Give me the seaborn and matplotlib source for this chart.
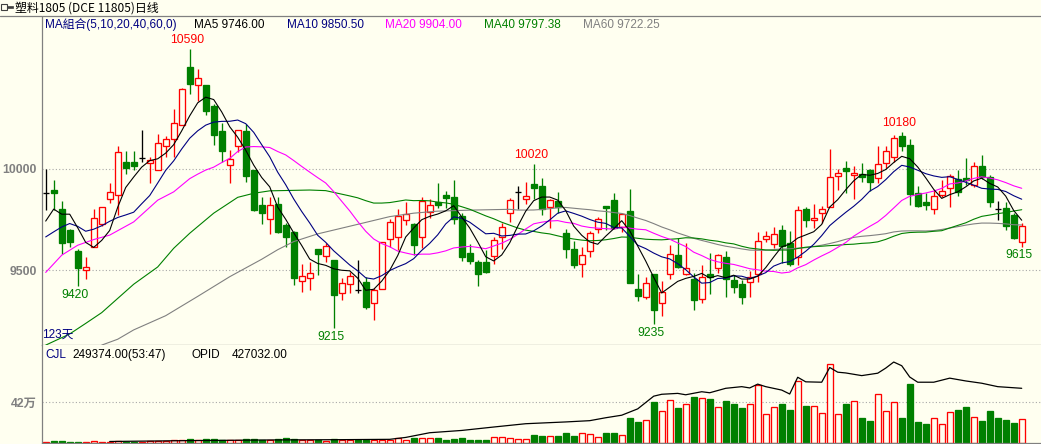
import numpy as np
import pandas as pd
import matplotlib
matplotlib.use("Agg")
import matplotlib.pyplot as plt
from matplotlib.lines import Line2D
from matplotlib.patches import Rectangle
import seaborn as sns

# daily bars (123 days)
opens = [9878, 9893, 9800, 9696, 9593, 9499, 9611, 9729, 9849, 9869,
         10030, 10030, 10051, 10025, 9995, 10110, 10143, 10213, 10501, 10411,
         10411, 10307, 10184, 10016, 10110, 10184, 9992, 9819, 9749, 9825,
         9722, 9686, 9447, 9459, 9604, 9569, 9549, 9388, 9429, 9401,
         9439, 9336, 9408, 9651, 9661, 9746, 9727, 9661, 9787, 9836,
         9868, 9858, 9766, 9582, 9538, 9538, 9569, 9661, 9779, 9884,
         9850, 9922, 9914, 9809, 9840, 9684, 9605, 9528, 9594, 9700,
         9815, 9845, 9713, 9791, 9406, 9369, 9480, 9336, 9479, 9574,
         9479, 9456, 9357, 9480, 9508, 9566, 9451, 9431, 9439, 9480,
         9653, 9630, 9697, 9631, 9562, 9800, 9747, 9779, 9809, 9961,
         10001, 9968, 9971, 9993, 9952, 10025, 10058, 10160, 10116, 9881,
         9835, 9802, 9871, 9906, 9947, 9952, 9919, 10012, 9956, 9799,
         9805, 9769, 9640]
highs = [10000, 9943, 9839, 9701, 9603, 9565, 9803, 9808, 9931, 10110,
         10085, 10085, 10189, 10057, 10169, 10159, 10292, 10399, 10590, 10488,
         10411, 10320, 10222, 10090, 10189, 10218, 9995, 9860, 9860, 9858,
         9730, 9690, 9530, 9538, 9604, 9635, 9549, 9459, 9492, 9549,
         9464, 9410, 9636, 9751, 9799, 9833, 9733, 9858, 9848, 9930,
         9891, 9943, 9779, 9628, 9549, 9598, 9664, 9730, 9853, 9914,
         9932, 10020, 9952, 9850, 9884, 9700, 9644, 9615, 9694, 9762,
         9815, 9881, 9779, 9897, 9480, 9467, 9480, 9448, 9623, 9656,
         9631, 9484, 9525, 9582, 9579, 9594, 9475, 9451, 9497, 9686,
         9692, 9713, 9722, 9692, 9815, 9812, 9825, 9815, 10096, 9998,
         10037, 10012, 10025, 9998, 10111, 10111, 10165, 10180, 10144, 9914,
         9881, 9894, 9943, 9973, 9993, 10053, 10034, 10067, 9968, 9840,
         9836, 9779, 9730]
lows = [9796, 9795, 9581, 9611, 9420, 9458, 9611, 9716, 9828, 9770,
        9975, 9995, 10033, 9929, 9995, 10057, 10057, 10213, 10369, 10333,
        10263, 10115, 10033, 9929, 10082, 9934, 9790, 9726, 9675, 9684,
        9615, 9426, 9393, 9401, 9475, 9541, 9215, 9352, 9388, 9388,
        9306, 9254, 9408, 9615, 9598, 9722, 9574, 9607, 9754, 9804,
        9807, 9727, 9546, 9528, 9423, 9484, 9528, 9605, 9735, 9799,
        9825, 9850, 9771, 9709, 9779, 9561, 9508, 9464, 9562, 9684,
        9697, 9700, 9689, 9434, 9349, 9357, 9235, 9271, 9456, 9508,
        9475, 9303, 9336, 9382, 9487, 9366, 9388, 9333, 9369, 9439,
        9636, 9607, 9533, 9521, 9525, 9713, 9705, 9733, 9809, 9894,
        9881, 9848, 9932, 9889, 9930, 10001, 10034, 10086, 9820, 9809,
        9796, 9776, 9858, 9812, 9865, 9919, 9911, 9947, 9812, 9746,
        9697, 9653, 9615]
closes = [9878, 9877, 9635, 9640, 9511, 9517, 9754, 9808, 9885, 10082,
          10003, 10013, 10051, 10044, 10128, 10143, 10222, 10391, 10414, 10448,
          10282, 10163, 10087, 10049, 10189, 9964, 9795, 9782, 9819, 9689,
          9664, 9462, 9470, 9484, 9581, 9618, 9377, 9434, 9470, 9401,
          9319, 9401, 9636, 9735, 9764, 9777, 9622, 9841, 9818, 9820,
          9856, 9750, 9562, 9546, 9479, 9490, 9646, 9710, 9845, 9884,
          9863, 9906, 9799, 9845, 9809, 9605, 9523, 9574, 9681, 9751,
          9804, 9705, 9774, 9434, 9374, 9434, 9303, 9390, 9577, 9516,
          9508, 9352, 9464, 9464, 9574, 9456, 9414, 9369, 9464, 9643,
          9669, 9676, 9620, 9528, 9794, 9746, 9755, 9800, 9956, 9976,
          9989, 9976, 9960, 9932, 10021, 10086, 10149, 10112, 9873, 9817,
          9820, 9865, 9889, 9965, 9886, 9943, 10011, 9956, 9836, 9799,
          9718, 9656, 9717]
# volume in thousands
volumes_k = [5, 15, 15, 5, 5, 5, 20, 5, 5, 20,
             8, 8, 8, 20, 20, 20, 22, 22, 35, 22,
             35, 38, 30, 30, 30, 35, 35, 28, 28, 39,
             45, 39, 21, 21, 21, 18, 39, 21, 25, 21,
             21, 25, 25, 25, 50, 25, 50, 50, 50, 49,
             28, 39, 49, 28, 28, 28, 56, 56, 49, 39,
             39, 74, 63, 63, 63, 99, 63, 99, 85, 55,
             99, 99, 74, 257, 215, 233, 427, 328, 444, 363,
             402, 480, 462, 455, 374, 437, 402, 363, 402, 596,
             296, 367, 402, 339, 638, 381, 381, 303, 822, 296,
             402, 437, 251, 222, 508, 332, 420, 261, 614, 215,
             190, 251, 198, 314, 339, 367, 268, 222, 328, 251,
             240, 205, 249.374]
# open interest, read at a set of days (thousands)
opid_days = [8, 18, 28, 36, 43, 45, 48, 52, 56, 60, 65, 68, 70, 72, 74, 76, 77,
             79, 80, 82, 83, 85, 87, 88, 89, 90, 92, 93, 94, 95, 97, 98, 99,
             100, 102, 104, 105, 106, 107, 108, 109, 111, 113, 115, 117, 119, 122]
opid_k = [8, 15, 20, 22, 25, 40, 77, 95, 122, 148, 162, 172, 195, 215, 265, 365, 380,
          387, 376, 400, 392, 427, 440, 430, 460, 440, 413, 382, 514, 478, 475, 591, 554,
          548, 527, 546, 586, 634, 605, 516, 475, 475, 507, 485, 467, 440, 427.032]

# moving-average values before each window fills
ma5_early_days, ma5_early = [0, 1, 2, 3], [9741, 9800, 9775, 9775]
ma10_early_days = [0, 1, 2, 3, 4, 5, 6, 7, 8]
ma10_early = [9663, 9688, 9712, 9729, 9715, 9691, 9701, 9718, 9740]
ma20_early_days = [0, 2, 4, 6, 8, 11, 14, 16, 18]
ma20_early = [9488, 9573, 9622, 9650, 9672, 9737, 9844, 9885, 9950]
ma40_early_days = [0, 3, 5, 7, 9, 11, 14, 16, 18, 21, 24, 26, 28, 33, 35, 38]
ma40_early = [9130, 9185, 9237, 9290, 9360, 9430, 9515, 9607, 9681, 9780,
              9858, 9878, 9890, 9894, 9891, 9865]
ma60_early_days = [7, 9, 11, 15, 19, 23, 25, 27, 29, 31, 34, 39, 43, 46, 49, 53, 58]
ma60_early = [9130, 9159, 9205, 9275, 9370, 9467, 9510, 9553, 9600, 9640,
              9678, 9725, 9763, 9780, 9790, 9795, 9799]

high_marks = [18, 61, 107]
low_marks = [4, 36, 76, 122]

W, H = 1041, 444
BG = "#fffff0"
RED = "#ff0000"
GREEN = "#008000"
NAVY = "#000080"
MAG = "#ff00ff"
GRAY = "#808080"
PX = 0.95  # a little over one pixel, in points

sns.set_theme(style="white")
plt.rcParams["font.family"] = ["Liberation Sans", "Noto Sans CJK SC", "DejaVu Sans"]
plt.rcParams["axes.facecolor"] = BG

df = pd.DataFrame({"open": opens, "high": highs, "low": lows, "close": closes,
                   "vol": np.array(volumes_k) * 1000})
x = df.index.values
o, h, l, c = (df[k].values.astype(float) for k in ["open", "high", "low", "close"])


def fx(px):
    return px / W


def fy(py):
    return 1 - py / H


fig = plt.figure(figsize=(W / 100, H / 100), dpi=100, facecolor=BG)
ax = fig.add_axes([fx(41.5), fy(345), fx(W - 41.5), (345 - 16.5) / H])
axv = fig.add_axes([fx(41.5), fy(442.5), fx(W - 41.5), (442.5 - 345) / H])

# grid
for v in [9500, 10000]:
    ax.axhline(v, color="#a8a8a8", lw=0.8, ls=(0, (1, 2)), zorder=0)
axv.axhline(420000, color="#a8a8a8", lw=0.8, ls=(0, (1, 2)), zorder=0)

# candles
bw = 0.75
up = c > o
dn = c < o
dj = c == o
top = np.maximum(o, c)
bot = np.minimum(o, c)
crisp = dict(lw=PX, snap=True)
ax.vlines(x[dn], l[dn], h[dn], color=GREEN, zorder=2, **crisp)
ax.bar(x[dn], (o - c)[dn], bottom=c[dn], width=bw, color=GREEN,
       edgecolor=GREEN, zorder=3, **crisp)
ax.vlines(x[up], top[up], h[up], color=RED, zorder=2, **crisp)
ax.vlines(x[up], l[up], bot[up], color=RED, zorder=2, **crisp)
ax.bar(x[up], (c - o)[up], bottom=o[up], width=bw, facecolor=BG,
       edgecolor=RED, zorder=3, **crisp)
ax.vlines(x[dj], l[dj], h[dj], color="black", zorder=3, **crisp)
ax.hlines(c[dj], x[dj] - bw / 2, x[dj] + bw / 2, color="black", zorder=3, **crisp)


# moving averages
def ma_line(n, early_days, early_vals):
    rolled = df["close"].rolling(n).mean()
    days = list(early_days) + list(range(n - 1, len(df)))
    vals = list(early_vals) + list(rolled.iloc[n - 1:])
    return days, vals


for n, ed, ev, col in [(60, ma60_early_days, ma60_early, GRAY),
                       (40, ma40_early_days, ma40_early, GREEN),
                       (20, ma20_early_days, ma20_early, MAG),
                       (10, ma10_early_days, ma10_early, NAVY),
                       (5, ma5_early_days, ma5_early, "black")]:
    d, v = ma_line(n, ed, ev)
    sns.lineplot(x=d, y=v, ax=ax, color=col, lw=0.8, estimator=None,
                 sort=False, legend=False, zorder=4)

# high / low labels
for i in high_marks:
    ax.annotate(f"{highs[i]}", (i, highs[i]), xytext=(-1.8, 6.5),
                textcoords="offset points", ha="center", va="center",
                color=RED, fontsize=8.8)
for i in low_marks:
    ax.annotate(f"{lows[i]}", (i, lows[i]), xytext=(-1.8, -6.3),
                textcoords="offset points", ha="center", va="center",
                color=GREEN, fontsize=8.8)

ax.set_xlim(-0.525, 124.41)
ax.set_ylim(9130.6, 10748.8)
ax.set_xticks([])
ax.set_yticks([9500, 10000])
ax.set_yticklabels(["9500", "10000"])
ax.set_xlabel("")
ax.set_ylabel("")

# volume panel
prev = np.r_[c[0], c[:-1]]
vup = up | (dj & (c >= prev))
vol = df["vol"].values
axv.bar(x[~vup], vol[~vup], width=bw, color=GREEN, edgecolor=GREEN, zorder=2, **crisp)
axv.bar(x[vup], vol[vup], width=bw, facecolor=BG, edgecolor=RED, zorder=2, **crisp)
axv.set_xlim(ax.get_xlim())
axv.set_ylim(0, 1018700)
axv.set_xticks([])
axv.set_yticks([420000])
axv.set_yticklabels(["42万"])

axo = axv.twinx()
sns.lineplot(x=opid_days, y=np.array(opid_k) * 1000, ax=axo, color="black",
             lw=0.9, estimator=None, sort=False, legend=False, zorder=5)
axo.set_ylim(0, 768200)
axo.set_yticks([])
axo.set_ylabel("")
for s in axo.spines.values():
    s.set_visible(False)

for a in (ax, axv):
    a.tick_params(axis="y", length=0, pad=3.5, labelsize=8.8, labelcolor=GRAY)
    for lbl in a.get_yticklabels():
        lbl.set_fontweight("bold")
    for s in a.spines.values():
        s.set_color(GRAY)
        s.set_linewidth(0.9)
    a.spines["right"].set_visible(False)
    a.set_facecolor(BG)
axv.spines["top"].set_visible(False)
ax.spines["top"].set_visible(False)

# full-width line under the title
fig.add_artist(Line2D([0, 1], [fy(16.5), fy(16.5)], color=GRAY, lw=0.9))

# title bar
fig.add_artist(Rectangle((fx(1), fy(10)), fx(6), 5.5 / H, fill=False, ec="#404040", lw=0.8))
fig.add_artist(Rectangle((fx(7), fy(8)), fx(6), 1.5 / H, fc="#404040", ec="#404040", lw=0.5))
fig.text(fx(15), fy(8), "塑料1805 (DCE 11805)日线", fontsize=8.6, va="center",
         ha="left", color="black", family=["Noto Sans CJK SC", "DejaVu Sans"])

# MA legend row
for txt, px, col in [("MA組合(5,10,20,40,60,0)", 45, NAVY),
                     ("MA5 9746.00", 194, "black"),
                     ("MA10 9850.50", 287, NAVY),
                     ("MA20 9904.00", 385, MAG),
                     ("MA40 9797.38", 484, GREEN),
                     ("MA60 9722.25", 583, GRAY)]:
    fig.text(fx(px), fy(24.5), txt, color=col, fontsize=8.5, va="center", ha="left")

fig.text(fx(42), fy(335), "123天", color=NAVY, fontsize=8.5, va="center", ha="left")

# volume header
for txt, px, col in [("CJL", 45, NAVY),
                     ("249374.00(53:47)", 72, "black"),
                     ("OPID", 192, "black"),
                     ("427032.00", 232, "black")]:
    fig.text(fx(px), fy(355), txt, color=col, fontsize=8.5, va="center", ha="left")

fig.savefig("out.png", dpi=100, facecolor=BG)
